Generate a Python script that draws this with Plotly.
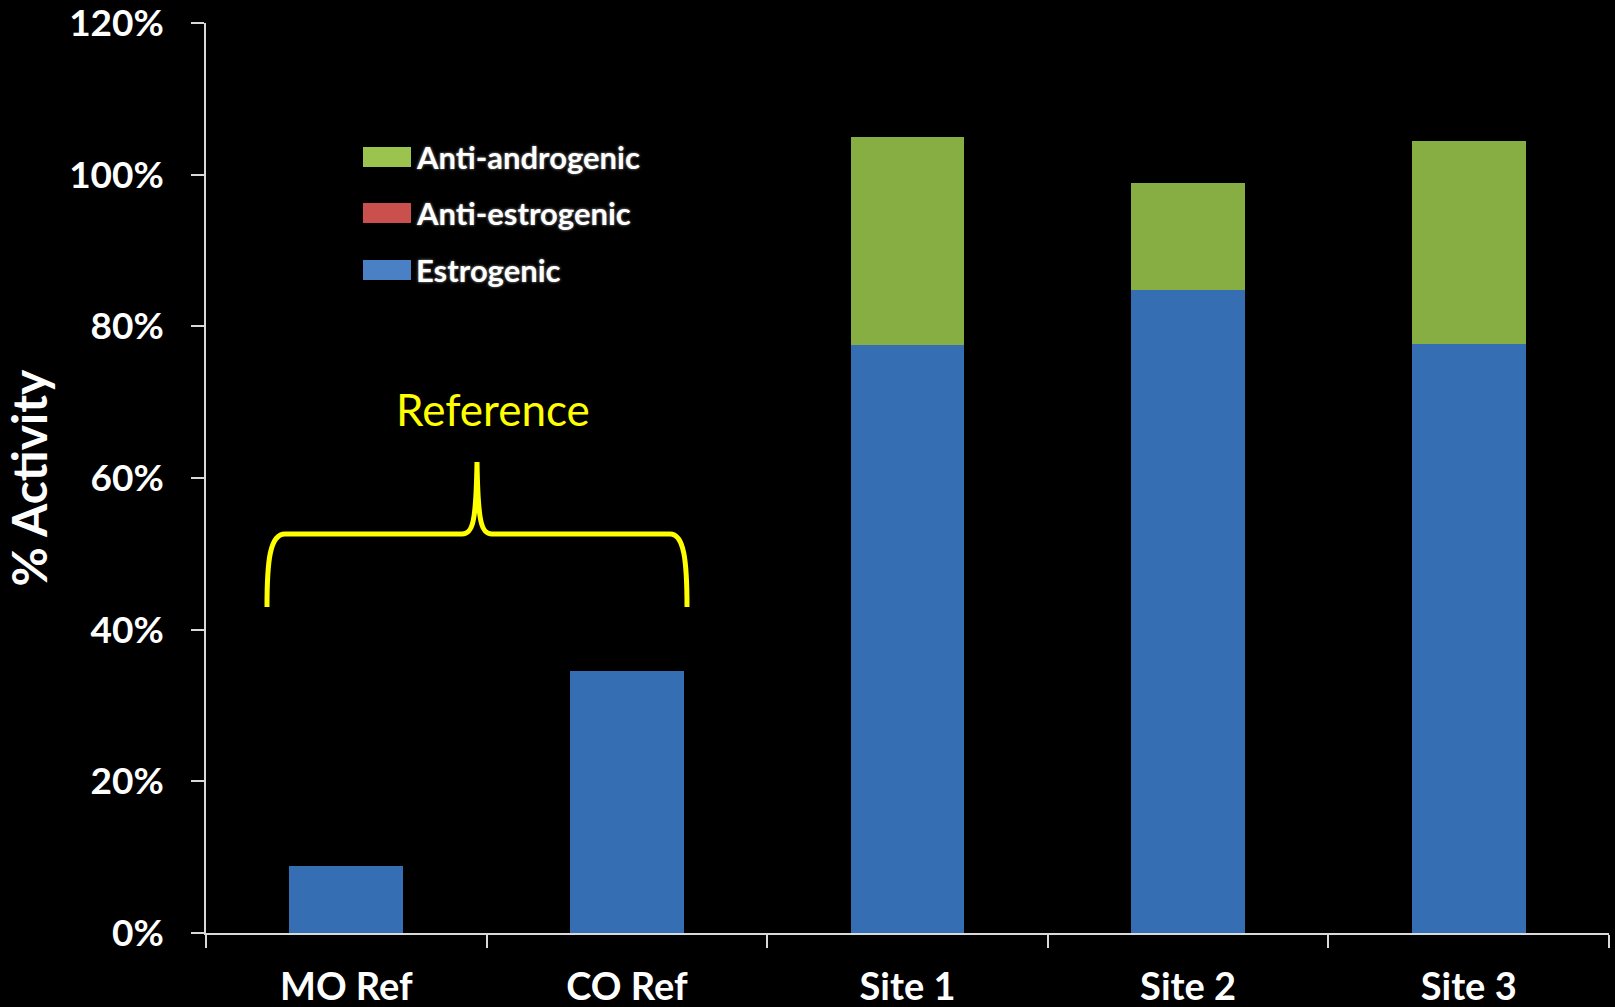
import plotly.graph_objects as go

# Sample categories and activity shares (fractions of 1)
categories = ["MO Ref", "CO Ref", "Site 1", "Site 2", "Site 3"]
estrogenic = [0.088, 0.346, 0.775, 0.848, 0.777]
anti_estrogenic = [0.0, 0.0, 0.0, 0.0, 0.0]
anti_androgenic = [0.0, 0.0, 0.275, 0.141, 0.267]
y_ticks = [0, 0.2, 0.4, 0.6, 0.8, 1.0, 1.2]

BLUE = "#366eb4"
RED = "#c0504d"
GREEN = "#87ae42"
AXIS = "#d9d9d9"
FONT = "Lato"

W, H = 1615, 1007
M_L, M_R, M_T, M_B = 206, 6, 23, 74


def fx(px):
    """Pixel x -> paper x."""
    return (px - M_L) / (W - M_L - M_R)


def fy(py):
    """Pixel y -> paper y."""
    return (H - M_B - py) / (H - M_T - M_B)


fig = go.Figure()
for name, vals, col in [("Estrogenic", estrogenic, BLUE),
                        ("Anti-estrogenic", anti_estrogenic, RED),
                        ("Anti-androgenic", anti_androgenic, GREEN)]:
    fig.add_trace(go.Bar(x=categories, y=vals, name=name,
                         marker=dict(color=col, line=dict(width=0)),
                         showlegend=False))

# Hand-drawn legend block
legend_items = [("Anti-androgenic", "#9bc44e", 157),
                ("Anti-estrogenic", "#c9504c", 213),
                ("Estrogenic", "#4a80c4", 270)]
shapes = []
annotations = []
for label, col, cy in legend_items:
    shapes.append(dict(type="rect", xref="paper", yref="paper",
                       x0=fx(363), x1=fx(411), y0=fy(cy - 10), y1=fy(cy + 10),
                       fillcolor=col, line=dict(width=0)))
    annotations.append(dict(x=fx(414), y=fy(cy), xref="paper", yref="paper",
                            text=label, showarrow=False, xanchor="left",
                            yanchor="middle",
                            font=dict(family=FONT, size=31, color="white",
                                      weight="bold", shadow="0px 0px 3px #9a9a9a")))

# Curly brace grouping the two reference samples
pts = [(267, 607), (267, 560), (270, 534), (285, 534), (462, 534),
       (473, 534), (476, 522), (477, 462), (478, 522), (481, 534), (492, 534),
       (670, 534), (684, 534), (687, 560), (687, 607)]
P = [(fx(x), fy(y)) for x, y in pts]
path = ("M {0[0]},{0[1]} C {1[0]},{1[1]} {2[0]},{2[1]} {3[0]},{3[1]} "
        "L {4[0]},{4[1]} C {5[0]},{5[1]} {6[0]},{6[1]} {7[0]},{7[1]} "
        "C {8[0]},{8[1]} {9[0]},{9[1]} {10[0]},{10[1]} "
        "L {11[0]},{11[1]} C {12[0]},{12[1]} {13[0]},{13[1]} {14[0]},{14[1]}").format(*P)
shapes.append(dict(type="path", xref="paper", yref="paper", path=path,
                   line=dict(color="#ffff00", width=5)))
annotations.append(dict(x=fx(493), y=fy(409), xref="paper", yref="paper",
                        text="Reference", showarrow=False,
                        xanchor="center", yanchor="middle",
                        font=dict(family=FONT, size=44, color="#ffff00")))

fig.update_layout(
    width=W, height=H,
    barmode="stack", bargap=0.594,
    paper_bgcolor="black", plot_bgcolor="black",
    margin=dict(l=M_L, r=M_R, t=M_T, b=M_B, autoexpand=False),
    font=dict(family=FONT, color="white"),
    shapes=shapes, annotations=annotations,
    xaxis=dict(type="category", showline=True, linecolor=AXIS, linewidth=1.5,
               ticks="outside", tickson="boundaries", ticklen=13,
               tickcolor=AXIS, tickwidth=1.5, showgrid=False, automargin=False,
               ticklabeloverflow="allow",
               tickfont=dict(family=FONT, size=38, color="white", weight="bold"),
               ticklabelstandoff=20),
    yaxis=dict(range=[0, 1.2], tickvals=y_ticks, tickformat=".0%",
               showline=True, linecolor=AXIS, linewidth=1.5,
               ticks="outside", ticklen=13, tickcolor=AXIS, tickwidth=1.5,
               showgrid=False, zeroline=False, automargin=False,
               ticklabeloverflow="allow",
               tickfont=dict(family=FONT, size=37, color="white", weight="bold"),
               ticklabelstandoff=20,
               title=dict(text="% Activity", standoff=8,
                          font=dict(family=FONT, size=48, color="white",
                                    weight="bold"))),
)

fig.write_html("out.html")
